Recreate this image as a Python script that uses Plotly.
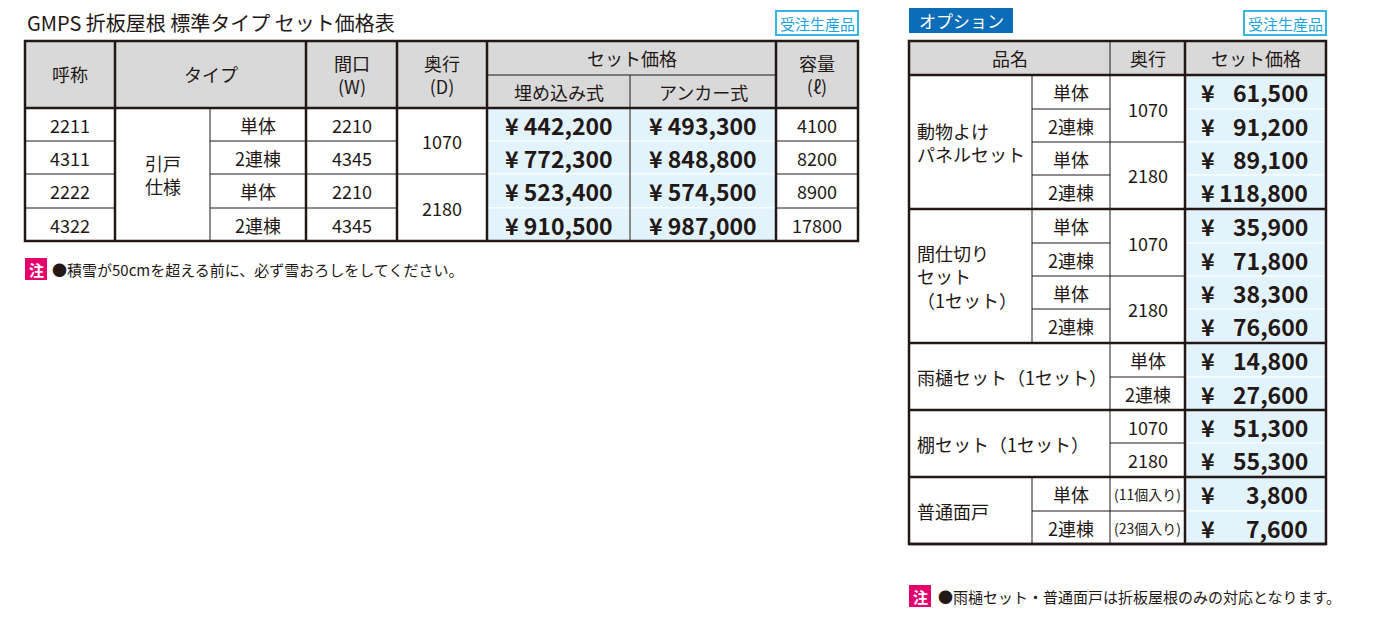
import plotly.graph_objects as go

FONT = "Noto Sans CJK JP"
DARK = "#231815"
GREY = "#d9d9d9"
BLUE = "#e2f3fb"

title = "GMPS 折板屋根 標準タイプ セット価格表"
codes = ["2211", "4311", "2222", "4322"]
kinds = ["単体", "2連棟", "単体", "2連棟"]
widths = ["2210", "4345", "2210", "4345"]
depths = ["1070", "2180"]
price_embed = [442200, 772300, 523400, 910500]
price_anchor = [493300, 848800, 574500, 987000]
capacity = ["4100", "8200", "8900", "17800"]
note1 = "●積雪が50cmを超える前に、必ず雪おろしをしてください。"

opt_groups = ["動物よけ<br>パネルセット", "間仕切り<br>セット<br>（1セット）", "雨樋セット（1セット）", "棚セット（1セット）", "普通面戸"]
opt_sub = [["単体", "2連棟", "単体", "2連棟"], ["単体", "2連棟", "単体", "2連棟"], ["単体", "2連棟"], ["1070", "2180"], ["単体", "2連棟"]]
opt_depth = [["1070", "2180"], ["1070", "2180"], None, None, ["(11個入り)", "(23個入り)"]]
opt_price = [61500, 91200, 89100, 118800, 35900, 71800, 38300, 76600, 14800, 27600, 51300, 55300, 3800, 7600]
note2 = "●雨樋セット・普通面戸は折板屋根のみの対応となります。"

shapes, anns = [], []

def rect(x0, x1, y0, y1, fill=None, lw=1, lc=DARK):
    shapes.append(dict(type="rect", x0=x0, x1=x1, y0=y0, y1=y1, fillcolor=fill or "rgba(0,0,0,0)",
                       line=dict(color=lc, width=lw), layer="below"))

def line(x0, y0, x1, y1, lw=1, lc=DARK):
    shapes.append(dict(type="line", x0=x0, x1=x1, y0=y0, y1=y1, line=dict(color=lc, width=lw)))

def text(x, y, s, size=18, color=DARK, bold=False, xanchor="center", align="center"):
    if bold:
        s = "<b>" + s + "</b>"
    anns.append(dict(x=x, y=y, text=s, showarrow=False, xanchor=xanchor, yanchor="middle", align=align,
                     font=dict(family=FONT, size=size, color=color)))

def fmt(v):
    return f"{v:,}"

# ---------- left table ----------
cx = [25, 115, 210, 306, 397, 487, 630, 776, 858]
ry = [41, 108, 141, 174, 208, 241]
text(25, 22, title, size=20, xanchor="left")
rect(776, 858, 11, 35, fill="white", lw=2, lc="#35b5e5")
text(817, 23, "受注生産品", size=15, color="#1aa3dc")

rect(cx[0], cx[-1], ry[0], ry[1], fill=GREY, lw=0)
for i in range(4):
    rect(cx[5], cx[6], ry[i+1], ry[i+2], fill=BLUE, lw=1, lc="white")
    rect(cx[6], cx[7], ry[i+1], ry[i+2], fill=BLUE, lw=1, lc="white")
text((cx[0]+cx[1])/2, 74, "呼称")
text((cx[1]+cx[3])/2, 74, "タイプ")
text((cx[3]+cx[4])/2, 74, "間口<br>(W)")
text((cx[4]+cx[5])/2, 74, "奥行<br>(D)")
text((cx[5]+cx[7])/2, 58, "セット価格")
text((cx[5]+cx[6])/2, 92, "埋め込み式")
text((cx[6]+cx[7])/2, 92, "アンカー式")
text((cx[7]+cx[8])/2, 74, "容量<br>(ℓ)")
line(cx[5], 75, cx[7], 75)
for i in range(4):
    yc = (ry[i+1]+ry[i+2])/2
    text((cx[0]+cx[1])/2, yc, codes[i])
    text((cx[2]+cx[3])/2, yc, kinds[i])
    text((cx[3]+cx[4])/2, yc, widths[i])
    text((cx[5]+cx[6])/2, yc, "¥ " + fmt(price_embed[i]), size=23, bold=True)
    text((cx[6]+cx[7])/2, yc, "¥ " + fmt(price_anchor[i]), size=23, bold=True)
    text((cx[7]+cx[8])/2, yc, capacity[i])
text((cx[1]+cx[2])/2, ry[3], "引戸<br>仕様", align="left")
text((cx[4]+cx[5])/2, ry[2], depths[0])
text((cx[4]+cx[5])/2, ry[4], depths[1])
for i in range(2, 5):
    line(cx[0], ry[i], cx[1], ry[i])
    line(cx[2], ry[i], cx[4], ry[i])
    line(cx[7], ry[i], cx[8], ry[i])
line(cx[4], ry[3], cx[5], ry[3])
for j in [1, 3, 4, 5, 7]:
    line(cx[j], ry[0], cx[j], ry[-1], lw=2.5)
line(cx[2], ry[1], cx[2], ry[-1])
line(cx[6], 75, cx[6], ry[-1])
line(cx[0], ry[1], cx[-1], ry[1], lw=2.5)
rect(cx[0], cx[-1], ry[0], ry[-1], lw=2.5)
rect(25, 47, 258, 280, fill="#e5006e", lw=0)
text(36, 269, "注", size=15, color="white", bold=True)
text(50, 269, note1, size=15, xanchor="left")

# ---------- right table ----------
ox = [909, 1032, 1110, 1185, 1326]
oy = [41, 75] + [75 + round(469/14*(k+1)) for k in range(14)]
rect(909, 1013, 7, 33, fill="#0b6db7", lw=0)
text(961, 20, "オプション", size=17, color="white")
rect(1244, 1326, 11, 35, fill="white", lw=2, lc="#35b5e5")
text(1285, 23, "受注生産品", size=15, color="#1aa3dc")
rect(ox[0], ox[-1], oy[0], oy[1], fill=GREY, lw=0)
for k in range(14):
    rect(ox[3], ox[4], oy[k+1], oy[k+2], fill=BLUE, lw=1, lc="white")
text((ox[0]+ox[2])/2, 58, "品名")
text((ox[2]+ox[3])/2, 58, "奥行")
text((ox[3]+ox[4])/2, 58, "セット価格")
for k, p in enumerate(opt_price):
    yc = (oy[k+1]+oy[k+2])/2
    text(ox[3]+14, yc, "¥", size=23, bold=True, xanchor="left")
    text(ox[4]-16, yc, fmt(p), size=23, bold=True, xanchor="right")
row = 0
for g, name in enumerate(opt_groups):
    n = len(opt_sub[g])
    top, bot = oy[row+1], oy[row+1+n]
    has_depth = opt_depth[g] is not None
    name_right = ox[1] if has_depth else ox[2]
    text(ox[0]+6, (top+bot)/2, name, xanchor="left", align="left")
    sub_l, sub_r = (ox[1], ox[2]) if has_depth else (ox[2], ox[3])
    for s in range(n):
        yc = (oy[row+1+s]+oy[row+2+s])/2
        text((sub_l+sub_r)/2, yc, opt_sub[g][s])
        if s > 0:
            line(sub_l, oy[row+1+s], sub_r, oy[row+1+s])
    line(name_right, top, name_right, bot)
    if has_depth:
        d = opt_depth[g]
        if n == 4:
            text((ox[2]+ox[3])/2, oy[row+2], d[0])
            text((ox[2]+ox[3])/2, oy[row+4], d[1])
            line(ox[2], oy[row+3], ox[3], oy[row+3])
        else:
            for s in range(n):
                text((ox[2]+ox[3])/2, (oy[row+1+s]+oy[row+2+s])/2, d[s], size=14)
            line(ox[2], oy[row+2], ox[3], oy[row+2])
        line(ox[2], top, ox[2], bot)
    line(ox[0], bot, ox[-1], bot, lw=2.5)
    row += n
line(ox[2], oy[0], ox[2], oy[1], lw=1)
line(ox[3], oy[0], ox[3], oy[-1], lw=2.5)
line(ox[0], oy[1], ox[-1], oy[1], lw=2.5)
rect(ox[0], ox[-1], oy[0], oy[-1], lw=2.5)
rect(909, 931, 585, 607, fill="#e5006e", lw=0)
text(920, 596, "注", size=15, color="white", bold=True)
text(936, 596, note2, size=15, xanchor="left")

fig = go.Figure()
OFF = 8  # compensate page body margin
fig.update_layout(width=1398, height=622, margin=dict(l=0, r=0, t=0, b=0),
                  paper_bgcolor="white", plot_bgcolor="white", shapes=shapes, annotations=anns,
                  xaxis=dict(range=[OFF, 1398 + OFF], visible=False, fixedrange=True),
                  yaxis=dict(range=[622 + OFF, OFF], visible=False, fixedrange=True), showlegend=False)
fig.write_html("out.html", config={"displayModeBar": False})
